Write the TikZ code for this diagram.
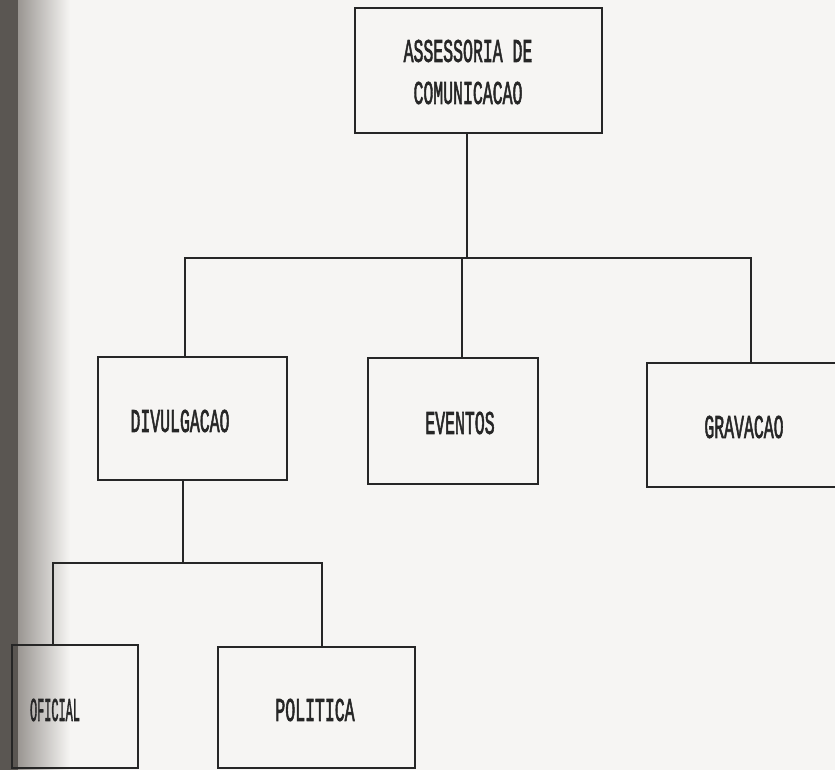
\documentclass[tikz,border=0pt]{standalone}
\usepackage{fontspec}
\newfontfamily\dotmfont{Liberation Mono}[FakeBold=2.6]
\newcommand\dotmtext[2][1]{\scalebox{#1}[2.0]{\dotmfont\fontsize{16.5}{16.5}\selectfont #2}}
\definecolor{paper}{HTML}{F6F5F3}
\definecolor{ink}{HTML}{262626}
\definecolor{shadowdark}{HTML}{5A5652}
\definecolor{shadowmid}{HTML}{9A9692}
\tikzset{
  orgbox/.style={draw=ink, line width=1.6pt, fill=none, rectangle, inner sep=0pt},
  orglabel/.style={text=ink, inner sep=0pt},
  orgline/.style={draw=ink, line width=1.6pt}
}
\begin{document}
\begin{tikzpicture}[x=1pt,y=-1pt]
\useasboundingbox (0,0) rectangle (835,770);
\clip (0,0) rectangle (835,770);
% paper and binding shadow
\fill[paper] (0,0) rectangle (835,770);
\fill[shadowdark] (0,0) rectangle (18,770);
\shade[left color=shadowmid, right color=paper] (18,0) rectangle (70,770);

% boxes
\node[orgbox, minimum width=247pt, minimum height=125pt] (top) at (478.5,70.5) {};
\node[orgbox, minimum width=189pt, minimum height=123pt] (div) at (192.5,418.5) {};
\node[orgbox, minimum width=170pt, minimum height=126pt] (eve) at (453,421) {};
\node[orgbox, minimum width=203pt, minimum height=124pt] (gra) at (748.5,425) {};
\node[orgbox, minimum width=126pt, minimum height=123pt] (ofi) at (75,706.5) {};
\node[orgbox, minimum width=197pt, minimum height=121pt] (pol) at (316.5,707.5) {};

% labels
\node[orglabel] (topa) at (468,51) {\dotmtext{ASSESSORIA DE}};
\node[orglabel] (topb) at (468,93) {\dotmtext{COMUNICACAO}};
\node[orglabel] (divt) at (180,421) {\dotmtext{DIVULGACAO}};
\node[orglabel] (evet) at (460,423) {\dotmtext{EVENTOS}};
\node[orglabel] (grat) at (744,427) {\dotmtext{GRAVACAO}};
\node[orglabel] (ofit) at (55,710) {\dotmtext[0.72]{OFICIAL}};
\node[orglabel] (polt) at (315,710) {\dotmtext{POLITICA}};

% connector reference points
\coordinate (bus) at (0,258);
\coordinate (lowbus) at (0,563);
\coordinate (topx) at (467,0);
\coordinate (divx) at (185,0);
\coordinate (divbx) at (183,0);
\coordinate (evex) at (462,0);
\coordinate (grax) at (751,0);
\coordinate (ofix) at (53,0);
\coordinate (polx) at (322,0);

% upper level
\draw[orgline] (top.south -| topx) -- (bus -| topx);
\draw[orgline] (div.north -| divx) -- (bus -| divx) -- (bus -| grax) -- (gra.north -| grax);
\draw[orgline] (bus -| evex) -- (eve.north -| evex);
% lower level
\draw[orgline] (div.south -| divbx) -- (lowbus -| divbx);
\draw[orgline] (ofi.north -| ofix) -- (lowbus -| ofix) -- (lowbus -| polx) -- (pol.north -| polx);
\end{tikzpicture}
\end{document}
